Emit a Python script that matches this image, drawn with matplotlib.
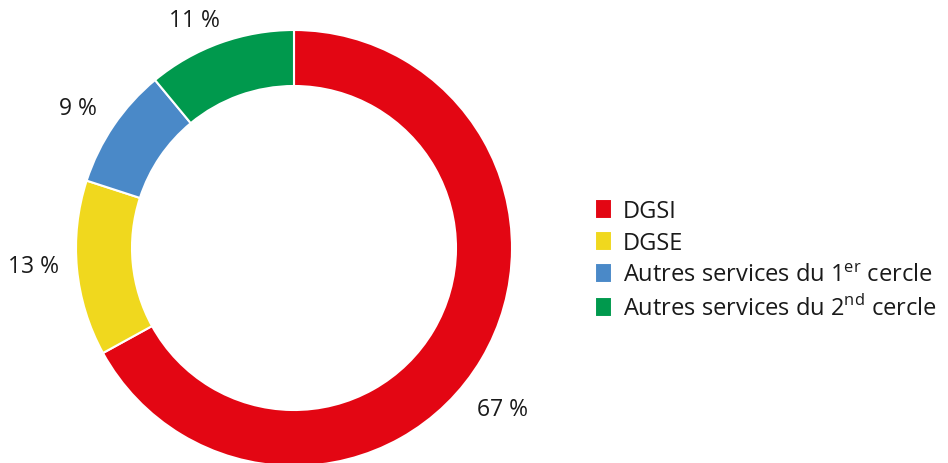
import matplotlib
matplotlib.use("Agg")
import matplotlib.pyplot as plt
import numpy as np

categories = ["DGSI", "DGSE", "Autres services du 1$^{\\mathrm{er}}$ cercle",
              "Autres services du 2$^{\\mathrm{nd}}$ cercle"]
values = [67, 13, 9, 11]
labels = ["67 %", "13 %", "9 %", "11 %"]
colors = ["#E30613", "#F0D81E", "#4A89C8", "#00994D"]

plt.rcParams['font.family'] = ['Open Sans', 'DejaVu Sans']
plt.rcParams['mathtext.fontset'] = 'custom'
plt.rcParams['mathtext.rm'] = 'Open Sans'

W, H = 948, 464
fig = plt.figure(figsize=(W / 100, H / 100), dpi=100)
R = 218
cx, cy = 294, 464 - 249
ax = fig.add_axes([(cx - R) / W, (cy - R) / H, 2 * R / W, 2 * R / H])

wedges, _ = ax.pie(values, colors=colors, startangle=90, counterclock=False,
                   radius=1.0, wedgeprops=dict(width=56 / 218, edgecolor='white', linewidth=1.5))
ax.set_xlim(-1, 1)
ax.set_ylim(-1, 1)
ax.set_aspect('equal')
ax.axis('off')

# label positions (angle in degrees, radius factor)
label_pos = [(-37.6, 1.21), (184.0, 1.20), (147.0, 1.18), (113.6, 1.14)]
for lab, (ang, r) in zip(labels, label_pos):
    a = np.deg2rad(ang)
    ax.text(r * np.cos(a), r * np.sin(a), lab, ha='center', va='center',
            fontsize=16.5, color='#1a1a1a', clip_on=False)

leg = fig.legend(wedges, categories, loc='center left',
                 bbox_to_anchor=(595 / W, 1 - 261 / H), frameon=False,
                 fontsize=17, handlelength=0.72, handleheight=0.95,
                 handletextpad=0.45, labelspacing=0.32, borderaxespad=0,
                 borderpad=0)
for t in leg.get_texts():
    t.set_color('#1a1a1a')

fig.savefig("out.png", dpi=100)
